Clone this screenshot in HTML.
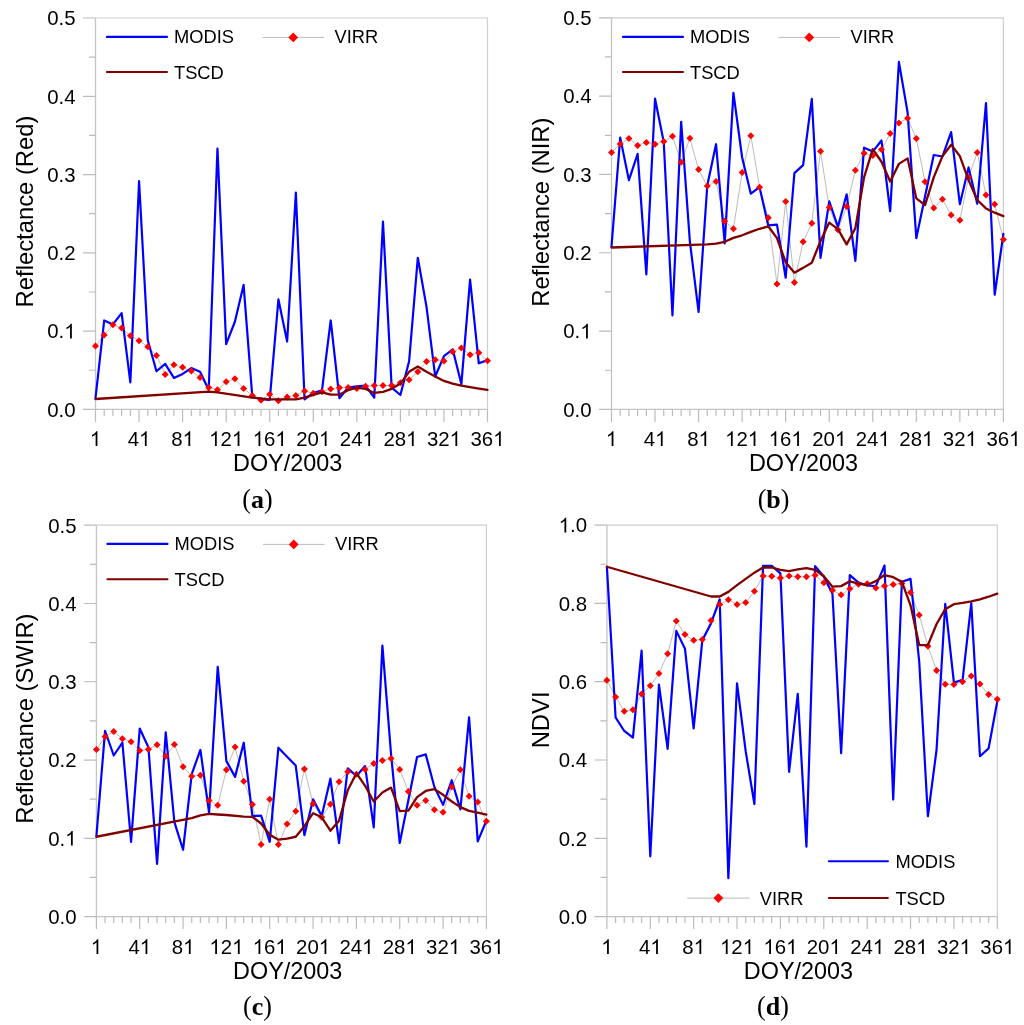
<!DOCTYPE html><html><head><meta charset="utf-8"><style>html,body{margin:0;padding:0;background:#fff;}svg{display:block;will-change:transform;}</style></head><body>
<svg width="1024" height="1025" viewBox="0 0 1024 1025" font-family='"Liberation Sans", sans-serif' fill="#000">
<rect width="1024" height="1025" fill="#fff"/>
<path d="M95.50,18.00H487.50V409.40" fill="none" stroke="#cfcfcf" stroke-width="1.2"/>
<path d="M95.50,18.00V409.40H487.50" fill="none" stroke="#c4c4c4" stroke-width="1.3"/>
<path d="M83.00,409.40H95.50 M89.00,370.26H95.50 M83.00,331.12H95.50 M89.00,291.98H95.50 M83.00,252.84H95.50 M89.00,213.70H95.50 M83.00,174.56H95.50 M89.00,135.42H95.50 M83.00,96.28H95.50 M89.00,57.14H95.50 M83.00,18.00H95.50 M95.50,409.40V421.90 M104.21,409.40V415.90 M112.92,409.40V415.90 M121.63,409.40V415.90 M130.34,409.40V415.90 M139.06,409.40V421.90 M147.77,409.40V415.90 M156.48,409.40V415.90 M165.19,409.40V415.90 M173.90,409.40V415.90 M182.61,409.40V421.90 M191.32,409.40V415.90 M200.03,409.40V415.90 M208.74,409.40V415.90 M217.46,409.40V415.90 M226.17,409.40V421.90 M234.88,409.40V415.90 M243.59,409.40V415.90 M252.30,409.40V415.90 M261.01,409.40V415.90 M269.72,409.40V421.90 M278.43,409.40V415.90 M287.14,409.40V415.90 M295.86,409.40V415.90 M304.57,409.40V415.90 M313.28,409.40V421.90 M321.99,409.40V415.90 M330.70,409.40V415.90 M339.41,409.40V415.90 M348.12,409.40V415.90 M356.83,409.40V421.90 M365.54,409.40V415.90 M374.26,409.40V415.90 M382.97,409.40V415.90 M391.68,409.40V415.90 M400.39,409.40V421.90 M409.10,409.40V415.90 M417.81,409.40V415.90 M426.52,409.40V415.90 M435.23,409.40V415.90 M443.94,409.40V421.90 M452.66,409.40V415.90 M461.37,409.40V415.90 M470.08,409.40V415.90 M478.79,409.40V415.90 M487.50,409.40V421.90" stroke="#bcbcbc" stroke-width="1.2" fill="none"/>
<g transform="translate(47.24,416.70) scale(1,1.0)" font-size="20.4"><text x="0.00" y="0">0.0</text></g>
<g transform="translate(47.24,338.42) scale(1,1.0)" font-size="20.4"><text x="0.00" y="0">0.</text><path transform="translate(17.01,0) scale(0.00996,-0.00996)" d="M763,0H583V1147Q518,1085 412,1023T222,930V1104Q373,1175 486,1276T646,1472H763Z"/></g>
<g transform="translate(47.24,260.14) scale(1,1.0)" font-size="20.4"><text x="0.00" y="0">0.2</text></g>
<g transform="translate(47.24,181.86) scale(1,1.0)" font-size="20.4"><text x="0.00" y="0">0.3</text></g>
<g transform="translate(47.24,103.58) scale(1,1.0)" font-size="20.4"><text x="0.00" y="0">0.4</text></g>
<g transform="translate(47.24,25.30) scale(1,1.0)" font-size="20.4"><text x="0.00" y="0">0.5</text></g>
<g transform="translate(89.83,446.00) scale(1,1.0)" font-size="20.4"><path transform="translate(0.00,0) scale(0.00996,-0.00996)" d="M763,0H583V1147Q518,1085 412,1023T222,930V1104Q373,1175 486,1276T646,1472H763Z"/></g>
<g transform="translate(127.71,446.00) scale(1,1.0)" font-size="20.4"><text x="0.00" y="0">4</text><path transform="translate(11.34,0) scale(0.00996,-0.00996)" d="M763,0H583V1147Q518,1085 412,1023T222,930V1104Q373,1175 486,1276T646,1472H763Z"/></g>
<g transform="translate(171.27,446.00) scale(1,1.0)" font-size="20.4"><text x="0.00" y="0">8</text><path transform="translate(11.34,0) scale(0.00996,-0.00996)" d="M763,0H583V1147Q518,1085 412,1023T222,930V1104Q373,1175 486,1276T646,1472H763Z"/></g>
<g transform="translate(209.15,446.00) scale(1,1.0)" font-size="20.4"><path transform="translate(0.00,0) scale(0.00996,-0.00996)" d="M763,0H583V1147Q518,1085 412,1023T222,930V1104Q373,1175 486,1276T646,1472H763Z"/><text x="11.34" y="0">2</text><path transform="translate(22.68,0) scale(0.00996,-0.00996)" d="M763,0H583V1147Q518,1085 412,1023T222,930V1104Q373,1175 486,1276T646,1472H763Z"/></g>
<g transform="translate(252.71,446.00) scale(1,1.0)" font-size="20.4"><path transform="translate(0.00,0) scale(0.00996,-0.00996)" d="M763,0H583V1147Q518,1085 412,1023T222,930V1104Q373,1175 486,1276T646,1472H763Z"/><text x="11.34" y="0">6</text><path transform="translate(22.68,0) scale(0.00996,-0.00996)" d="M763,0H583V1147Q518,1085 412,1023T222,930V1104Q373,1175 486,1276T646,1472H763Z"/></g>
<g transform="translate(296.26,446.00) scale(1,1.0)" font-size="20.4"><text x="0.00" y="0">20</text><path transform="translate(22.68,0) scale(0.00996,-0.00996)" d="M763,0H583V1147Q518,1085 412,1023T222,930V1104Q373,1175 486,1276T646,1472H763Z"/></g>
<g transform="translate(339.82,446.00) scale(1,1.0)" font-size="20.4"><text x="0.00" y="0">24</text><path transform="translate(22.68,0) scale(0.00996,-0.00996)" d="M763,0H583V1147Q518,1085 412,1023T222,930V1104Q373,1175 486,1276T646,1472H763Z"/></g>
<g transform="translate(383.38,446.00) scale(1,1.0)" font-size="20.4"><text x="0.00" y="0">28</text><path transform="translate(22.68,0) scale(0.00996,-0.00996)" d="M763,0H583V1147Q518,1085 412,1023T222,930V1104Q373,1175 486,1276T646,1472H763Z"/></g>
<g transform="translate(426.93,446.00) scale(1,1.0)" font-size="20.4"><text x="0.00" y="0">32</text><path transform="translate(22.68,0) scale(0.00996,-0.00996)" d="M763,0H583V1147Q518,1085 412,1023T222,930V1104Q373,1175 486,1276T646,1472H763Z"/></g>
<g transform="translate(470.49,446.00) scale(1,1.0)" font-size="20.4"><text x="0.00" y="0">36</text><path transform="translate(22.68,0) scale(0.00996,-0.00996)" d="M763,0H583V1147Q518,1085 412,1023T222,930V1104Q373,1175 486,1276T646,1472H763Z"/></g>
<text transform="translate(287.60,470.80) scale(1,1.0)" text-anchor="middle" font-size="23.4">DOY/2003</text>
<text transform="translate(32.60,211.50) rotate(-90) scale(1,1.0)" text-anchor="middle" font-size="23.8">Reflectance (Red)</text>
<g font-family="Liberation Serif, serif" font-size="26"><text transform="translate(246.67,507.50) scale(1,1.06)" text-anchor="middle">(</text><text x="257.50" y="507.50" text-anchor="middle" font-weight="bold">a</text><text transform="translate(268.33,507.50) scale(1,1.06)" text-anchor="middle">)</text></g>
<svg x="89.50" y="12.00" width="404.00" height="403.40" viewBox="89.50 12.00 404.00 403.40" overflow="visible">
<polyline points="95.50,345.99 104.21,335.03 112.92,324.86 121.63,327.99 130.34,335.82 139.06,340.67 147.77,346.78 156.48,355.39 165.19,374.49 173.90,364.78 182.61,367.29 191.32,371.04 200.03,377.62 208.74,387.48 217.46,389.67 226.17,381.77 234.88,378.87 243.59,388.42 252.30,395.47 261.01,400.24 269.72,394.21 278.43,400.79 287.14,396.88 295.86,395.47 304.57,391.00 313.28,393.35 321.99,391.63 330.70,389.05 339.41,387.64 348.12,387.48 356.83,388.42 365.54,386.31 374.26,385.52 382.97,385.52 391.68,385.52 400.39,382.86 409.10,379.65 417.81,371.83 426.52,361.41 435.23,359.77 443.94,361.10 452.66,351.63 461.37,348.03 470.08,354.68 478.79,352.73 487.50,360.87" fill="none" stroke="#b4b4b4" stroke-width="0.9"/>
<polyline points="95.50,398.21 104.21,320.47 112.92,324.39 121.63,313.12 130.34,382.39 139.06,180.98 147.77,340.20 156.48,371.28 165.19,363.92 173.90,377.93 182.61,373.94 191.32,368.07 200.03,371.83 208.74,389.83 217.46,148.65 226.17,344.19 234.88,321.73 243.59,284.93 252.30,396.80 261.01,399.22 269.72,400.01 278.43,299.42 287.14,341.53 295.86,192.56 304.57,399.46 313.28,392.96 321.99,390.30 330.70,320.47 339.41,398.21 348.12,387.48 356.83,386.31 365.54,385.52 374.26,397.66 382.97,221.68 391.68,387.64 400.39,395.00 409.10,361.34 417.81,257.77 426.52,306.85 435.23,376.52 443.94,356.17 452.66,349.28 461.37,384.04 470.08,279.69 478.79,363.29 487.50,360.16" fill="none" stroke="#0000ff" stroke-width="2.2" stroke-linejoin="round" stroke-linecap="round"/>
<path d="M95.50,342.49l3.5,3.5l-3.5,3.5l-3.5,-3.5zM104.21,331.53l3.5,3.5l-3.5,3.5l-3.5,-3.5zM112.92,321.36l3.5,3.5l-3.5,3.5l-3.5,-3.5zM121.63,324.49l3.5,3.5l-3.5,3.5l-3.5,-3.5zM130.34,332.32l3.5,3.5l-3.5,3.5l-3.5,-3.5zM139.06,337.17l3.5,3.5l-3.5,3.5l-3.5,-3.5zM147.77,343.28l3.5,3.5l-3.5,3.5l-3.5,-3.5zM156.48,351.89l3.5,3.5l-3.5,3.5l-3.5,-3.5zM165.19,370.99l3.5,3.5l-3.5,3.5l-3.5,-3.5zM173.90,361.28l3.5,3.5l-3.5,3.5l-3.5,-3.5zM182.61,363.79l3.5,3.5l-3.5,3.5l-3.5,-3.5zM191.32,367.54l3.5,3.5l-3.5,3.5l-3.5,-3.5zM200.03,374.12l3.5,3.5l-3.5,3.5l-3.5,-3.5zM208.74,383.98l3.5,3.5l-3.5,3.5l-3.5,-3.5zM217.46,386.17l3.5,3.5l-3.5,3.5l-3.5,-3.5zM226.17,378.27l3.5,3.5l-3.5,3.5l-3.5,-3.5zM234.88,375.37l3.5,3.5l-3.5,3.5l-3.5,-3.5zM243.59,384.92l3.5,3.5l-3.5,3.5l-3.5,-3.5zM252.30,391.97l3.5,3.5l-3.5,3.5l-3.5,-3.5zM261.01,396.74l3.5,3.5l-3.5,3.5l-3.5,-3.5zM269.72,390.71l3.5,3.5l-3.5,3.5l-3.5,-3.5zM278.43,397.29l3.5,3.5l-3.5,3.5l-3.5,-3.5zM287.14,393.38l3.5,3.5l-3.5,3.5l-3.5,-3.5zM295.86,391.97l3.5,3.5l-3.5,3.5l-3.5,-3.5zM304.57,387.50l3.5,3.5l-3.5,3.5l-3.5,-3.5zM313.28,389.85l3.5,3.5l-3.5,3.5l-3.5,-3.5zM321.99,388.13l3.5,3.5l-3.5,3.5l-3.5,-3.5zM330.70,385.55l3.5,3.5l-3.5,3.5l-3.5,-3.5zM339.41,384.14l3.5,3.5l-3.5,3.5l-3.5,-3.5zM348.12,383.98l3.5,3.5l-3.5,3.5l-3.5,-3.5zM356.83,384.92l3.5,3.5l-3.5,3.5l-3.5,-3.5zM365.54,382.81l3.5,3.5l-3.5,3.5l-3.5,-3.5zM374.26,382.02l3.5,3.5l-3.5,3.5l-3.5,-3.5zM382.97,382.02l3.5,3.5l-3.5,3.5l-3.5,-3.5zM391.68,382.02l3.5,3.5l-3.5,3.5l-3.5,-3.5zM400.39,379.36l3.5,3.5l-3.5,3.5l-3.5,-3.5zM409.10,376.15l3.5,3.5l-3.5,3.5l-3.5,-3.5zM417.81,368.33l3.5,3.5l-3.5,3.5l-3.5,-3.5zM426.52,357.91l3.5,3.5l-3.5,3.5l-3.5,-3.5zM435.23,356.27l3.5,3.5l-3.5,3.5l-3.5,-3.5zM443.94,357.60l3.5,3.5l-3.5,3.5l-3.5,-3.5zM452.66,348.13l3.5,3.5l-3.5,3.5l-3.5,-3.5zM461.37,344.53l3.5,3.5l-3.5,3.5l-3.5,-3.5zM470.08,351.18l3.5,3.5l-3.5,3.5l-3.5,-3.5zM478.79,349.23l3.5,3.5l-3.5,3.5l-3.5,-3.5zM487.50,357.37l3.5,3.5l-3.5,3.5l-3.5,-3.5z" fill="#ff0000"/>
<polyline points="95.50,398.99 208.74,391.63 217.46,392.41 252.30,397.66 269.72,399.46 295.86,399.46 304.57,397.66 313.28,394.84 321.99,392.41 330.70,394.53 339.41,394.53 348.12,390.22 356.83,387.64 365.54,388.89 374.26,392.96 382.97,391.87 391.68,388.89 400.39,383.57 409.10,371.83 417.81,366.58 426.52,371.83 435.23,376.52 443.94,380.91 452.66,383.57 461.37,385.60 470.08,387.17 478.79,388.58 487.50,389.83" fill="none" stroke="#800000" stroke-width="2.3" stroke-linejoin="round" stroke-linecap="round"/>
</svg>
<path d="M106.9,36.9H167.0" stroke="#0000ff" stroke-width="2.1" stroke-linecap="round"/>
<path d="M262.5,37.4H324" stroke="#b4b4b4" stroke-width="0.9"/>
<path d="M293.25,32.50l4.9,4.9l-4.9,4.9l-4.9,-4.9z" fill="#ff0000"/>
<path d="M106.9,72.0H167.0" stroke="#800000" stroke-width="2.0" stroke-linecap="round"/>
<text transform="translate(174,43.4) scale(1,1.0)" font-size="18.3">MODIS</text>
<text transform="translate(334.5,43.4) scale(1,1.0)" font-size="18.3">VIRR</text>
<text transform="translate(174,78.5) scale(1,1.0)" font-size="18.3">TSCD</text>
<path d="M611.50,17.80H1003.40V409.40" fill="none" stroke="#cfcfcf" stroke-width="1.2"/>
<path d="M611.50,17.80V409.40H1003.40" fill="none" stroke="#c4c4c4" stroke-width="1.3"/>
<path d="M599.00,409.40H611.50 M605.00,370.24H611.50 M599.00,331.08H611.50 M605.00,291.92H611.50 M599.00,252.76H611.50 M605.00,213.60H611.50 M599.00,174.44H611.50 M605.00,135.28H611.50 M599.00,96.12H611.50 M605.00,56.96H611.50 M599.00,17.80H611.50 M611.50,409.40V421.90 M620.21,409.40V415.90 M628.92,409.40V415.90 M637.63,409.40V415.90 M646.34,409.40V415.90 M655.04,409.40V421.90 M663.75,409.40V415.90 M672.46,409.40V415.90 M681.17,409.40V415.90 M689.88,409.40V415.90 M698.59,409.40V421.90 M707.30,409.40V415.90 M716.01,409.40V415.90 M724.72,409.40V415.90 M733.42,409.40V415.90 M742.13,409.40V421.90 M750.84,409.40V415.90 M759.55,409.40V415.90 M768.26,409.40V415.90 M776.97,409.40V415.90 M785.68,409.40V421.90 M794.39,409.40V415.90 M803.10,409.40V415.90 M811.80,409.40V415.90 M820.51,409.40V415.90 M829.22,409.40V421.90 M837.93,409.40V415.90 M846.64,409.40V415.90 M855.35,409.40V415.90 M864.06,409.40V415.90 M872.77,409.40V421.90 M881.48,409.40V415.90 M890.18,409.40V415.90 M898.89,409.40V415.90 M907.60,409.40V415.90 M916.31,409.40V421.90 M925.02,409.40V415.90 M933.73,409.40V415.90 M942.44,409.40V415.90 M951.15,409.40V415.90 M959.86,409.40V421.90 M968.56,409.40V415.90 M977.27,409.40V415.90 M985.98,409.40V415.90 M994.69,409.40V415.90 M1003.40,409.40V421.90" stroke="#bcbcbc" stroke-width="1.2" fill="none"/>
<g transform="translate(563.24,416.70) scale(1,1.0)" font-size="20.4"><text x="0.00" y="0">0.0</text></g>
<g transform="translate(563.24,338.38) scale(1,1.0)" font-size="20.4"><text x="0.00" y="0">0.</text><path transform="translate(17.01,0) scale(0.00996,-0.00996)" d="M763,0H583V1147Q518,1085 412,1023T222,930V1104Q373,1175 486,1276T646,1472H763Z"/></g>
<g transform="translate(563.24,260.06) scale(1,1.0)" font-size="20.4"><text x="0.00" y="0">0.2</text></g>
<g transform="translate(563.24,181.74) scale(1,1.0)" font-size="20.4"><text x="0.00" y="0">0.3</text></g>
<g transform="translate(563.24,103.42) scale(1,1.0)" font-size="20.4"><text x="0.00" y="0">0.4</text></g>
<g transform="translate(563.24,25.10) scale(1,1.0)" font-size="20.4"><text x="0.00" y="0">0.5</text></g>
<g transform="translate(605.83,446.00) scale(1,1.0)" font-size="20.4"><path transform="translate(0.00,0) scale(0.00996,-0.00996)" d="M763,0H583V1147Q518,1085 412,1023T222,930V1104Q373,1175 486,1276T646,1472H763Z"/></g>
<g transform="translate(643.70,446.00) scale(1,1.0)" font-size="20.4"><text x="0.00" y="0">4</text><path transform="translate(11.34,0) scale(0.00996,-0.00996)" d="M763,0H583V1147Q518,1085 412,1023T222,930V1104Q373,1175 486,1276T646,1472H763Z"/></g>
<g transform="translate(687.25,446.00) scale(1,1.0)" font-size="20.4"><text x="0.00" y="0">8</text><path transform="translate(11.34,0) scale(0.00996,-0.00996)" d="M763,0H583V1147Q518,1085 412,1023T222,930V1104Q373,1175 486,1276T646,1472H763Z"/></g>
<g transform="translate(725.12,446.00) scale(1,1.0)" font-size="20.4"><path transform="translate(0.00,0) scale(0.00996,-0.00996)" d="M763,0H583V1147Q518,1085 412,1023T222,930V1104Q373,1175 486,1276T646,1472H763Z"/><text x="11.34" y="0">2</text><path transform="translate(22.68,0) scale(0.00996,-0.00996)" d="M763,0H583V1147Q518,1085 412,1023T222,930V1104Q373,1175 486,1276T646,1472H763Z"/></g>
<g transform="translate(768.66,446.00) scale(1,1.0)" font-size="20.4"><path transform="translate(0.00,0) scale(0.00996,-0.00996)" d="M763,0H583V1147Q518,1085 412,1023T222,930V1104Q373,1175 486,1276T646,1472H763Z"/><text x="11.34" y="0">6</text><path transform="translate(22.68,0) scale(0.00996,-0.00996)" d="M763,0H583V1147Q518,1085 412,1023T222,930V1104Q373,1175 486,1276T646,1472H763Z"/></g>
<g transform="translate(812.21,446.00) scale(1,1.0)" font-size="20.4"><text x="0.00" y="0">20</text><path transform="translate(22.68,0) scale(0.00996,-0.00996)" d="M763,0H583V1147Q518,1085 412,1023T222,930V1104Q373,1175 486,1276T646,1472H763Z"/></g>
<g transform="translate(855.75,446.00) scale(1,1.0)" font-size="20.4"><text x="0.00" y="0">24</text><path transform="translate(22.68,0) scale(0.00996,-0.00996)" d="M763,0H583V1147Q518,1085 412,1023T222,930V1104Q373,1175 486,1276T646,1472H763Z"/></g>
<g transform="translate(899.30,446.00) scale(1,1.0)" font-size="20.4"><text x="0.00" y="0">28</text><path transform="translate(22.68,0) scale(0.00996,-0.00996)" d="M763,0H583V1147Q518,1085 412,1023T222,930V1104Q373,1175 486,1276T646,1472H763Z"/></g>
<g transform="translate(942.84,446.00) scale(1,1.0)" font-size="20.4"><text x="0.00" y="0">32</text><path transform="translate(22.68,0) scale(0.00996,-0.00996)" d="M763,0H583V1147Q518,1085 412,1023T222,930V1104Q373,1175 486,1276T646,1472H763Z"/></g>
<g transform="translate(986.39,446.00) scale(1,1.0)" font-size="20.4"><text x="0.00" y="0">36</text><path transform="translate(22.68,0) scale(0.00996,-0.00996)" d="M763,0H583V1147Q518,1085 412,1023T222,930V1104Q373,1175 486,1276T646,1472H763Z"/></g>
<text transform="translate(803.50,470.80) scale(1,1.0)" text-anchor="middle" font-size="23.4">DOY/2003</text>
<text transform="translate(549.00,212.10) rotate(-90) scale(1,1.0)" text-anchor="middle" font-size="23.8">Reflectance (NIR)</text>
<g font-family="Liberation Serif, serif" font-size="26"><text transform="translate(762.04,507.50) scale(1,1.06)" text-anchor="middle">(</text><text x="773.60" y="507.50" text-anchor="middle" font-weight="bold">b</text><text transform="translate(785.16,507.50) scale(1,1.06)" text-anchor="middle">)</text></g>
<svg x="605.50" y="11.80" width="403.90" height="403.60" viewBox="605.50 11.80 403.90 403.60" overflow="visible">
<polyline points="611.50,152.43 620.21,143.90 628.92,138.57 637.63,145.38 646.34,142.49 655.04,144.21 663.75,141.39 672.46,136.30 681.17,162.30 689.88,138.26 698.59,169.43 707.30,186.11 716.01,181.57 724.72,221.20 733.42,228.79 742.13,172.48 750.84,135.75 759.55,187.21 768.26,217.75 776.97,284.01 785.68,201.38 794.39,282.60 803.10,241.87 811.80,223.16 820.51,151.26 829.22,207.57 837.93,229.66 846.64,206.47 855.35,170.29 864.06,153.29 872.77,155.56 881.48,149.61 890.18,133.48 898.89,123.06 907.60,118.21 916.31,138.49 925.02,181.65 933.73,207.96 942.44,199.19 951.15,214.93 959.86,220.34 968.56,177.34 977.27,152.43 985.98,195.12 994.69,204.20 1003.40,239.60" fill="none" stroke="#b4b4b4" stroke-width="0.9"/>
<polyline points="611.50,246.65 620.21,137.63 628.92,180.16 637.63,153.84 646.34,274.38 655.04,98.70 663.75,142.02 672.46,315.42 681.17,121.81 689.88,241.56 698.59,311.89 707.30,185.48 716.01,144.21 724.72,243.28 733.42,92.91 742.13,157.52 750.84,193.71 759.55,187.21 768.26,225.43 776.97,224.56 785.68,277.74 794.39,173.11 803.10,165.12 811.80,98.78 820.51,257.93 829.22,201.38 837.93,226.84 846.64,194.33 855.35,260.83 864.06,147.65 872.77,151.57 881.48,140.53 890.18,211.25 898.89,61.97 907.60,112.41 916.31,238.19 925.02,196.60 933.73,155.02 942.44,156.50 951.15,132.07 959.86,204.20 968.56,167.39 977.27,203.65 985.98,103.01 994.69,294.74 1003.40,233.88" fill="none" stroke="#0000ff" stroke-width="2.2" stroke-linejoin="round" stroke-linecap="round"/>
<path d="M611.50,148.93l3.5,3.5l-3.5,3.5l-3.5,-3.5zM620.21,140.40l3.5,3.5l-3.5,3.5l-3.5,-3.5zM628.92,135.07l3.5,3.5l-3.5,3.5l-3.5,-3.5zM637.63,141.88l3.5,3.5l-3.5,3.5l-3.5,-3.5zM646.34,138.99l3.5,3.5l-3.5,3.5l-3.5,-3.5zM655.04,140.71l3.5,3.5l-3.5,3.5l-3.5,-3.5zM663.75,137.89l3.5,3.5l-3.5,3.5l-3.5,-3.5zM672.46,132.80l3.5,3.5l-3.5,3.5l-3.5,-3.5zM681.17,158.80l3.5,3.5l-3.5,3.5l-3.5,-3.5zM689.88,134.76l3.5,3.5l-3.5,3.5l-3.5,-3.5zM698.59,165.93l3.5,3.5l-3.5,3.5l-3.5,-3.5zM707.30,182.61l3.5,3.5l-3.5,3.5l-3.5,-3.5zM716.01,178.07l3.5,3.5l-3.5,3.5l-3.5,-3.5zM724.72,217.70l3.5,3.5l-3.5,3.5l-3.5,-3.5zM733.42,225.29l3.5,3.5l-3.5,3.5l-3.5,-3.5zM742.13,168.98l3.5,3.5l-3.5,3.5l-3.5,-3.5zM750.84,132.25l3.5,3.5l-3.5,3.5l-3.5,-3.5zM759.55,183.71l3.5,3.5l-3.5,3.5l-3.5,-3.5zM768.26,214.25l3.5,3.5l-3.5,3.5l-3.5,-3.5zM776.97,280.51l3.5,3.5l-3.5,3.5l-3.5,-3.5zM785.68,197.88l3.5,3.5l-3.5,3.5l-3.5,-3.5zM794.39,279.10l3.5,3.5l-3.5,3.5l-3.5,-3.5zM803.10,238.37l3.5,3.5l-3.5,3.5l-3.5,-3.5zM811.80,219.66l3.5,3.5l-3.5,3.5l-3.5,-3.5zM820.51,147.76l3.5,3.5l-3.5,3.5l-3.5,-3.5zM829.22,204.07l3.5,3.5l-3.5,3.5l-3.5,-3.5zM837.93,226.16l3.5,3.5l-3.5,3.5l-3.5,-3.5zM846.64,202.97l3.5,3.5l-3.5,3.5l-3.5,-3.5zM855.35,166.79l3.5,3.5l-3.5,3.5l-3.5,-3.5zM864.06,149.79l3.5,3.5l-3.5,3.5l-3.5,-3.5zM872.77,152.06l3.5,3.5l-3.5,3.5l-3.5,-3.5zM881.48,146.11l3.5,3.5l-3.5,3.5l-3.5,-3.5zM890.18,129.98l3.5,3.5l-3.5,3.5l-3.5,-3.5zM898.89,119.56l3.5,3.5l-3.5,3.5l-3.5,-3.5zM907.60,114.71l3.5,3.5l-3.5,3.5l-3.5,-3.5zM916.31,134.99l3.5,3.5l-3.5,3.5l-3.5,-3.5zM925.02,178.15l3.5,3.5l-3.5,3.5l-3.5,-3.5zM933.73,204.46l3.5,3.5l-3.5,3.5l-3.5,-3.5zM942.44,195.69l3.5,3.5l-3.5,3.5l-3.5,-3.5zM951.15,211.43l3.5,3.5l-3.5,3.5l-3.5,-3.5zM959.86,216.84l3.5,3.5l-3.5,3.5l-3.5,-3.5zM968.56,173.84l3.5,3.5l-3.5,3.5l-3.5,-3.5zM977.27,148.93l3.5,3.5l-3.5,3.5l-3.5,-3.5zM985.98,191.62l3.5,3.5l-3.5,3.5l-3.5,-3.5zM994.69,200.70l3.5,3.5l-3.5,3.5l-3.5,-3.5zM1003.40,236.10l3.5,3.5l-3.5,3.5l-3.5,-3.5z" fill="#ff0000"/>
<polyline points="611.50,247.51 707.30,244.30 716.01,243.60 724.72,241.80 733.42,237.88 742.13,235.29 750.84,231.93 759.55,228.79 768.26,226.29 776.97,238.19 785.68,262.24 794.39,272.65 803.10,267.88 811.80,262.78 820.51,241.01 829.22,222.61 837.93,229.11 846.64,244.38 855.35,228.25 864.06,177.34 872.77,149.06 881.48,161.75 890.18,181.57 898.89,163.87 907.60,158.38 916.31,198.41 925.02,205.14 933.73,177.42 942.44,156.19 951.15,144.76 959.86,156.11 968.56,180.16 977.27,199.97 985.98,208.43 994.69,212.66 1003.40,216.11" fill="none" stroke="#800000" stroke-width="2.3" stroke-linejoin="round" stroke-linecap="round"/>
</svg>
<path d="M622.9,36.9H683.0" stroke="#0000ff" stroke-width="2.1" stroke-linecap="round"/>
<path d="M778.5,37.4H840.0" stroke="#b4b4b4" stroke-width="0.9"/>
<path d="M809.25,32.50l4.9,4.9l-4.9,4.9l-4.9,-4.9z" fill="#ff0000"/>
<path d="M622.9,72.0H683.0" stroke="#800000" stroke-width="2.0" stroke-linecap="round"/>
<text transform="translate(690.0,43.4) scale(1,1.0)" font-size="18.3">MODIS</text>
<text transform="translate(850.5,43.4) scale(1,1.0)" font-size="18.3">VIRR</text>
<text transform="translate(690.0,78.5) scale(1,1.0)" font-size="18.3">TSCD</text>
<path d="M96.40,525.20H486.40V916.60" fill="none" stroke="#cfcfcf" stroke-width="1.2"/>
<path d="M96.40,525.20V916.60H486.40" fill="none" stroke="#c4c4c4" stroke-width="1.3"/>
<path d="M83.90,916.60H96.40 M89.90,877.46H96.40 M83.90,838.32H96.40 M89.90,799.18H96.40 M83.90,760.04H96.40 M89.90,720.90H96.40 M83.90,681.76H96.40 M89.90,642.62H96.40 M83.90,603.48H96.40 M89.90,564.34H96.40 M83.90,525.20H96.40 M96.40,916.60V929.10 M105.07,916.60V923.10 M113.73,916.60V923.10 M122.40,916.60V923.10 M131.07,916.60V923.10 M139.73,916.60V929.10 M148.40,916.60V923.10 M157.07,916.60V923.10 M165.73,916.60V923.10 M174.40,916.60V923.10 M183.07,916.60V929.10 M191.73,916.60V923.10 M200.40,916.60V923.10 M209.07,916.60V923.10 M217.73,916.60V923.10 M226.40,916.60V929.10 M235.07,916.60V923.10 M243.73,916.60V923.10 M252.40,916.60V923.10 M261.07,916.60V923.10 M269.73,916.60V929.10 M278.40,916.60V923.10 M287.07,916.60V923.10 M295.73,916.60V923.10 M304.40,916.60V923.10 M313.07,916.60V929.10 M321.73,916.60V923.10 M330.40,916.60V923.10 M339.07,916.60V923.10 M347.73,916.60V923.10 M356.40,916.60V929.10 M365.07,916.60V923.10 M373.73,916.60V923.10 M382.40,916.60V923.10 M391.07,916.60V923.10 M399.73,916.60V929.10 M408.40,916.60V923.10 M417.07,916.60V923.10 M425.73,916.60V923.10 M434.40,916.60V923.10 M443.07,916.60V929.10 M451.73,916.60V923.10 M460.40,916.60V923.10 M469.07,916.60V923.10 M477.73,916.60V923.10 M486.40,916.60V929.10" stroke="#bcbcbc" stroke-width="1.2" fill="none"/>
<g transform="translate(48.14,923.90) scale(1,1.0)" font-size="20.4"><text x="0.00" y="0">0.0</text></g>
<g transform="translate(48.14,845.62) scale(1,1.0)" font-size="20.4"><text x="0.00" y="0">0.</text><path transform="translate(17.01,0) scale(0.00996,-0.00996)" d="M763,0H583V1147Q518,1085 412,1023T222,930V1104Q373,1175 486,1276T646,1472H763Z"/></g>
<g transform="translate(48.14,767.34) scale(1,1.0)" font-size="20.4"><text x="0.00" y="0">0.2</text></g>
<g transform="translate(48.14,689.06) scale(1,1.0)" font-size="20.4"><text x="0.00" y="0">0.3</text></g>
<g transform="translate(48.14,610.78) scale(1,1.0)" font-size="20.4"><text x="0.00" y="0">0.4</text></g>
<g transform="translate(48.14,532.50) scale(1,1.0)" font-size="20.4"><text x="0.00" y="0">0.5</text></g>
<g transform="translate(90.73,953.90) scale(1,1.0)" font-size="20.4"><path transform="translate(0.00,0) scale(0.00996,-0.00996)" d="M763,0H583V1147Q518,1085 412,1023T222,930V1104Q373,1175 486,1276T646,1472H763Z"/></g>
<g transform="translate(128.39,953.90) scale(1,1.0)" font-size="20.4"><text x="0.00" y="0">4</text><path transform="translate(11.34,0) scale(0.00996,-0.00996)" d="M763,0H583V1147Q518,1085 412,1023T222,930V1104Q373,1175 486,1276T646,1472H763Z"/></g>
<g transform="translate(171.72,953.90) scale(1,1.0)" font-size="20.4"><text x="0.00" y="0">8</text><path transform="translate(11.34,0) scale(0.00996,-0.00996)" d="M763,0H583V1147Q518,1085 412,1023T222,930V1104Q373,1175 486,1276T646,1472H763Z"/></g>
<g transform="translate(209.39,953.90) scale(1,1.0)" font-size="20.4"><path transform="translate(0.00,0) scale(0.00996,-0.00996)" d="M763,0H583V1147Q518,1085 412,1023T222,930V1104Q373,1175 486,1276T646,1472H763Z"/><text x="11.34" y="0">2</text><path transform="translate(22.68,0) scale(0.00996,-0.00996)" d="M763,0H583V1147Q518,1085 412,1023T222,930V1104Q373,1175 486,1276T646,1472H763Z"/></g>
<g transform="translate(252.72,953.90) scale(1,1.0)" font-size="20.4"><path transform="translate(0.00,0) scale(0.00996,-0.00996)" d="M763,0H583V1147Q518,1085 412,1023T222,930V1104Q373,1175 486,1276T646,1472H763Z"/><text x="11.34" y="0">6</text><path transform="translate(22.68,0) scale(0.00996,-0.00996)" d="M763,0H583V1147Q518,1085 412,1023T222,930V1104Q373,1175 486,1276T646,1472H763Z"/></g>
<g transform="translate(296.05,953.90) scale(1,1.0)" font-size="20.4"><text x="0.00" y="0">20</text><path transform="translate(22.68,0) scale(0.00996,-0.00996)" d="M763,0H583V1147Q518,1085 412,1023T222,930V1104Q373,1175 486,1276T646,1472H763Z"/></g>
<g transform="translate(339.39,953.90) scale(1,1.0)" font-size="20.4"><text x="0.00" y="0">24</text><path transform="translate(22.68,0) scale(0.00996,-0.00996)" d="M763,0H583V1147Q518,1085 412,1023T222,930V1104Q373,1175 486,1276T646,1472H763Z"/></g>
<g transform="translate(382.72,953.90) scale(1,1.0)" font-size="20.4"><text x="0.00" y="0">28</text><path transform="translate(22.68,0) scale(0.00996,-0.00996)" d="M763,0H583V1147Q518,1085 412,1023T222,930V1104Q373,1175 486,1276T646,1472H763Z"/></g>
<g transform="translate(426.05,953.90) scale(1,1.0)" font-size="20.4"><text x="0.00" y="0">32</text><path transform="translate(22.68,0) scale(0.00996,-0.00996)" d="M763,0H583V1147Q518,1085 412,1023T222,930V1104Q373,1175 486,1276T646,1472H763Z"/></g>
<g transform="translate(469.39,953.90) scale(1,1.0)" font-size="20.4"><text x="0.00" y="0">36</text><path transform="translate(22.68,0) scale(0.00996,-0.00996)" d="M763,0H583V1147Q518,1085 412,1023T222,930V1104Q373,1175 486,1276T646,1472H763Z"/></g>
<text transform="translate(287.70,978.90) scale(1,1.0)" text-anchor="middle" font-size="23.4">DOY/2003</text>
<text transform="translate(32.80,718.60) rotate(-90) scale(1,1.0)" text-anchor="middle" font-size="23.8">Reflectance (SWIR)</text>
<g font-family="Liberation Serif, serif" font-size="26"><text transform="translate(247.40,1014.70) scale(1,1.06)" text-anchor="middle">(</text><text x="257.50" y="1014.70" text-anchor="middle" font-weight="bold">c</text><text transform="translate(267.60,1014.70) scale(1,1.06)" text-anchor="middle">)</text></g>
<svg x="90.40" y="519.20" width="402.00" height="403.40" viewBox="90.40 519.20 402.00 403.40" overflow="visible">
<polyline points="96.40,749.47 105.07,736.87 113.73,731.55 122.40,738.67 131.07,741.64 139.73,750.57 148.40,749.24 157.07,744.78 165.73,756.20 174.40,744.54 183.07,766.77 191.73,776.17 200.40,775.30 209.07,800.43 217.73,805.36 226.40,769.67 235.07,746.97 243.73,781.33 252.40,804.42 261.07,844.58 269.73,799.26 278.40,844.58 287.07,823.99 295.73,811.16 304.40,768.96 313.07,803.80 321.73,817.26 330.40,804.19 339.07,781.80 347.73,771.70 356.40,774.13 365.07,769.43 373.73,763.41 382.40,760.43 391.07,758.47 399.73,769.43 408.40,791.43 417.07,805.36 425.73,800.43 434.40,809.83 443.07,812.33 451.73,786.97 460.40,769.67 469.07,796.36 477.73,802.00 486.40,821.25" fill="none" stroke="#b4b4b4" stroke-width="0.9"/>
<polyline points="96.40,836.28 105.07,730.84 113.73,755.50 122.40,742.74 131.07,841.92 139.73,728.57 148.40,747.20 157.07,863.92 165.73,732.41 174.40,822.19 183.07,849.75 191.73,774.13 200.40,749.94 209.07,812.72 217.73,666.89 226.40,761.14 235.07,776.87 243.73,742.74 252.40,816.09 261.07,815.70 269.73,841.92 278.40,747.67 287.07,756.67 295.73,765.60 304.40,835.19 313.07,799.26 321.73,816.09 330.40,778.67 339.07,843.02 347.73,768.34 356.40,775.93 365.07,766.07 373.73,827.36 382.40,645.59 391.07,754.40 399.73,843.02 408.40,799.96 417.07,757.07 425.73,754.40 434.40,786.97 443.07,804.89 451.73,780.24 460.40,809.36 469.07,717.38 477.73,841.45 486.40,820.63" fill="none" stroke="#0000ff" stroke-width="2.2" stroke-linejoin="round" stroke-linecap="round"/>
<path d="M96.40,745.97l3.5,3.5l-3.5,3.5l-3.5,-3.5zM105.07,733.37l3.5,3.5l-3.5,3.5l-3.5,-3.5zM113.73,728.05l3.5,3.5l-3.5,3.5l-3.5,-3.5zM122.40,735.17l3.5,3.5l-3.5,3.5l-3.5,-3.5zM131.07,738.14l3.5,3.5l-3.5,3.5l-3.5,-3.5zM139.73,747.07l3.5,3.5l-3.5,3.5l-3.5,-3.5zM148.40,745.74l3.5,3.5l-3.5,3.5l-3.5,-3.5zM157.07,741.28l3.5,3.5l-3.5,3.5l-3.5,-3.5zM165.73,752.70l3.5,3.5l-3.5,3.5l-3.5,-3.5zM174.40,741.04l3.5,3.5l-3.5,3.5l-3.5,-3.5zM183.07,763.27l3.5,3.5l-3.5,3.5l-3.5,-3.5zM191.73,772.67l3.5,3.5l-3.5,3.5l-3.5,-3.5zM200.40,771.80l3.5,3.5l-3.5,3.5l-3.5,-3.5zM209.07,796.93l3.5,3.5l-3.5,3.5l-3.5,-3.5zM217.73,801.86l3.5,3.5l-3.5,3.5l-3.5,-3.5zM226.40,766.17l3.5,3.5l-3.5,3.5l-3.5,-3.5zM235.07,743.47l3.5,3.5l-3.5,3.5l-3.5,-3.5zM243.73,777.83l3.5,3.5l-3.5,3.5l-3.5,-3.5zM252.40,800.92l3.5,3.5l-3.5,3.5l-3.5,-3.5zM261.07,841.08l3.5,3.5l-3.5,3.5l-3.5,-3.5zM269.73,795.76l3.5,3.5l-3.5,3.5l-3.5,-3.5zM278.40,841.08l3.5,3.5l-3.5,3.5l-3.5,-3.5zM287.07,820.49l3.5,3.5l-3.5,3.5l-3.5,-3.5zM295.73,807.66l3.5,3.5l-3.5,3.5l-3.5,-3.5zM304.40,765.46l3.5,3.5l-3.5,3.5l-3.5,-3.5zM313.07,800.30l3.5,3.5l-3.5,3.5l-3.5,-3.5zM321.73,813.76l3.5,3.5l-3.5,3.5l-3.5,-3.5zM330.40,800.69l3.5,3.5l-3.5,3.5l-3.5,-3.5zM339.07,778.30l3.5,3.5l-3.5,3.5l-3.5,-3.5zM347.73,768.20l3.5,3.5l-3.5,3.5l-3.5,-3.5zM356.40,770.63l3.5,3.5l-3.5,3.5l-3.5,-3.5zM365.07,765.93l3.5,3.5l-3.5,3.5l-3.5,-3.5zM373.73,759.91l3.5,3.5l-3.5,3.5l-3.5,-3.5zM382.40,756.93l3.5,3.5l-3.5,3.5l-3.5,-3.5zM391.07,754.97l3.5,3.5l-3.5,3.5l-3.5,-3.5zM399.73,765.93l3.5,3.5l-3.5,3.5l-3.5,-3.5zM408.40,787.93l3.5,3.5l-3.5,3.5l-3.5,-3.5zM417.07,801.86l3.5,3.5l-3.5,3.5l-3.5,-3.5zM425.73,796.93l3.5,3.5l-3.5,3.5l-3.5,-3.5zM434.40,806.33l3.5,3.5l-3.5,3.5l-3.5,-3.5zM443.07,808.83l3.5,3.5l-3.5,3.5l-3.5,-3.5zM451.73,783.47l3.5,3.5l-3.5,3.5l-3.5,-3.5zM460.40,766.17l3.5,3.5l-3.5,3.5l-3.5,-3.5zM469.07,792.86l3.5,3.5l-3.5,3.5l-3.5,-3.5zM477.73,798.50l3.5,3.5l-3.5,3.5l-3.5,-3.5zM486.40,817.75l3.5,3.5l-3.5,3.5l-3.5,-3.5z" fill="#ff0000"/>
<polyline points="96.40,836.75 191.73,818.12 200.40,815.31 209.07,813.90 217.73,814.52 226.40,814.99 243.73,816.56 252.40,816.79 261.07,823.53 269.73,834.72 278.40,839.65 287.07,838.55 295.73,836.75 304.40,826.19 313.07,813.19 321.73,817.26 330.40,830.73 339.07,820.63 347.73,790.33 356.40,773.19 365.07,785.79 373.73,801.53 382.40,792.53 391.07,787.59 399.73,811.16 408.40,810.53 417.07,797.07 425.73,790.96 434.40,789.16 443.07,794.80 451.73,801.53 460.40,807.16 469.07,810.92 477.73,812.72 486.40,814.52" fill="none" stroke="#800000" stroke-width="2.3" stroke-linejoin="round" stroke-linecap="round"/>
</svg>
<path d="M107.4,543.9H167.5" stroke="#0000ff" stroke-width="2.1" stroke-linecap="round"/>
<path d="M263,544.4H324.5" stroke="#b4b4b4" stroke-width="0.9"/>
<path d="M293.75,539.50l4.9,4.9l-4.9,4.9l-4.9,-4.9z" fill="#ff0000"/>
<path d="M107.4,579.2H167.5" stroke="#800000" stroke-width="2.0" stroke-linecap="round"/>
<text transform="translate(174.6,550.4) scale(1,1.0)" font-size="18.3">MODIS</text>
<text transform="translate(335,550.4) scale(1,1.0)" font-size="18.3">VIRR</text>
<text transform="translate(174.6,585.7) scale(1,1.0)" font-size="18.3">TSCD</text>
<path d="M606.90,525.10H997.30V916.60" fill="none" stroke="#cfcfcf" stroke-width="1.2"/>
<path d="M606.90,525.10V916.60H997.30" fill="none" stroke="#c4c4c4" stroke-width="1.3"/>
<path d="M594.40,916.60H606.90 M600.40,877.45H606.90 M594.40,838.30H606.90 M600.40,799.15H606.90 M594.40,760.00H606.90 M600.40,720.85H606.90 M594.40,681.70H606.90 M600.40,642.55H606.90 M594.40,603.40H606.90 M600.40,564.25H606.90 M594.40,525.10H606.90 M606.90,916.60V929.10 M615.58,916.60V923.10 M624.25,916.60V923.10 M632.93,916.60V923.10 M641.60,916.60V923.10 M650.28,916.60V929.10 M658.95,916.60V923.10 M667.63,916.60V923.10 M676.30,916.60V923.10 M684.98,916.60V923.10 M693.66,916.60V929.10 M702.33,916.60V923.10 M711.01,916.60V923.10 M719.68,916.60V923.10 M728.36,916.60V923.10 M737.03,916.60V929.10 M745.71,916.60V923.10 M754.38,916.60V923.10 M763.06,916.60V923.10 M771.74,916.60V923.10 M780.41,916.60V929.10 M789.09,916.60V923.10 M797.76,916.60V923.10 M806.44,916.60V923.10 M815.11,916.60V923.10 M823.79,916.60V929.10 M832.46,916.60V923.10 M841.14,916.60V923.10 M849.82,916.60V923.10 M858.49,916.60V923.10 M867.17,916.60V929.10 M875.84,916.60V923.10 M884.52,916.60V923.10 M893.19,916.60V923.10 M901.87,916.60V923.10 M910.54,916.60V929.10 M919.22,916.60V923.10 M927.90,916.60V923.10 M936.57,916.60V923.10 M945.25,916.60V923.10 M953.92,916.60V929.10 M962.60,916.60V923.10 M971.27,916.60V923.10 M979.95,916.60V923.10 M988.62,916.60V923.10 M997.30,916.60V929.10" stroke="#bcbcbc" stroke-width="1.2" fill="none"/>
<g transform="translate(558.64,923.90) scale(1,1.0)" font-size="20.4"><text x="0.00" y="0">0.0</text></g>
<g transform="translate(558.64,845.60) scale(1,1.0)" font-size="20.4"><text x="0.00" y="0">0.2</text></g>
<g transform="translate(558.64,767.30) scale(1,1.0)" font-size="20.4"><text x="0.00" y="0">0.4</text></g>
<g transform="translate(558.64,689.00) scale(1,1.0)" font-size="20.4"><text x="0.00" y="0">0.6</text></g>
<g transform="translate(558.64,610.70) scale(1,1.0)" font-size="20.4"><text x="0.00" y="0">0.8</text></g>
<g transform="translate(558.64,532.40) scale(1,1.0)" font-size="20.4"><path transform="translate(0.00,0) scale(0.00996,-0.00996)" d="M763,0H583V1147Q518,1085 412,1023T222,930V1104Q373,1175 486,1276T646,1472H763Z"/><text x="11.34" y="0">.0</text></g>
<g transform="translate(601.23,953.90) scale(1,1.0)" font-size="20.4"><path transform="translate(0.00,0) scale(0.00996,-0.00996)" d="M763,0H583V1147Q518,1085 412,1023T222,930V1104Q373,1175 486,1276T646,1472H763Z"/></g>
<g transform="translate(638.94,953.90) scale(1,1.0)" font-size="20.4"><text x="0.00" y="0">4</text><path transform="translate(11.34,0) scale(0.00996,-0.00996)" d="M763,0H583V1147Q518,1085 412,1023T222,930V1104Q373,1175 486,1276T646,1472H763Z"/></g>
<g transform="translate(682.31,953.90) scale(1,1.0)" font-size="20.4"><text x="0.00" y="0">8</text><path transform="translate(11.34,0) scale(0.00996,-0.00996)" d="M763,0H583V1147Q518,1085 412,1023T222,930V1104Q373,1175 486,1276T646,1472H763Z"/></g>
<g transform="translate(720.02,953.90) scale(1,1.0)" font-size="20.4"><path transform="translate(0.00,0) scale(0.00996,-0.00996)" d="M763,0H583V1147Q518,1085 412,1023T222,930V1104Q373,1175 486,1276T646,1472H763Z"/><text x="11.34" y="0">2</text><path transform="translate(22.68,0) scale(0.00996,-0.00996)" d="M763,0H583V1147Q518,1085 412,1023T222,930V1104Q373,1175 486,1276T646,1472H763Z"/></g>
<g transform="translate(763.40,953.90) scale(1,1.0)" font-size="20.4"><path transform="translate(0.00,0) scale(0.00996,-0.00996)" d="M763,0H583V1147Q518,1085 412,1023T222,930V1104Q373,1175 486,1276T646,1472H763Z"/><text x="11.34" y="0">6</text><path transform="translate(22.68,0) scale(0.00996,-0.00996)" d="M763,0H583V1147Q518,1085 412,1023T222,930V1104Q373,1175 486,1276T646,1472H763Z"/></g>
<g transform="translate(806.78,953.90) scale(1,1.0)" font-size="20.4"><text x="0.00" y="0">20</text><path transform="translate(22.68,0) scale(0.00996,-0.00996)" d="M763,0H583V1147Q518,1085 412,1023T222,930V1104Q373,1175 486,1276T646,1472H763Z"/></g>
<g transform="translate(850.15,953.90) scale(1,1.0)" font-size="20.4"><text x="0.00" y="0">24</text><path transform="translate(22.68,0) scale(0.00996,-0.00996)" d="M763,0H583V1147Q518,1085 412,1023T222,930V1104Q373,1175 486,1276T646,1472H763Z"/></g>
<g transform="translate(893.53,953.90) scale(1,1.0)" font-size="20.4"><text x="0.00" y="0">28</text><path transform="translate(22.68,0) scale(0.00996,-0.00996)" d="M763,0H583V1147Q518,1085 412,1023T222,930V1104Q373,1175 486,1276T646,1472H763Z"/></g>
<g transform="translate(936.91,953.90) scale(1,1.0)" font-size="20.4"><text x="0.00" y="0">32</text><path transform="translate(22.68,0) scale(0.00996,-0.00996)" d="M763,0H583V1147Q518,1085 412,1023T222,930V1104Q373,1175 486,1276T646,1472H763Z"/></g>
<g transform="translate(980.29,953.90) scale(1,1.0)" font-size="20.4"><text x="0.00" y="0">36</text><path transform="translate(22.68,0) scale(0.00996,-0.00996)" d="M763,0H583V1147Q518,1085 412,1023T222,930V1104Q373,1175 486,1276T646,1472H763Z"/></g>
<text transform="translate(798.40,978.90) scale(1,1.0)" text-anchor="middle" font-size="23.4">DOY/2003</text>
<text transform="translate(549.00,719.90) rotate(-90) scale(1,1.0)" text-anchor="middle" font-size="23.8">NDVI</text>
<g font-family="Liberation Serif, serif" font-size="26"><text transform="translate(761.44,1014.70) scale(1,1.06)" text-anchor="middle">(</text><text x="773.00" y="1014.70" text-anchor="middle" font-weight="bold">d</text><text transform="translate(784.56,1014.70) scale(1,1.06)" text-anchor="middle">)</text></g>
<svg x="600.90" y="519.10" width="402.40" height="403.50" viewBox="600.90 519.10 402.40 403.50" overflow="visible">
<polyline points="606.90,680.21 615.58,696.89 624.25,711.34 632.93,709.85 641.60,693.91 650.28,685.77 658.95,673.52 667.63,653.86 676.30,620.98 684.98,634.60 693.66,640.16 702.33,639.42 711.01,620.59 719.68,604.46 728.36,599.68 737.03,604.46 745.71,602.54 754.38,591.30 763.06,575.88 771.74,576.27 780.41,577.99 789.09,575.88 797.76,576.82 806.44,576.82 815.11,575.13 823.79,582.73 832.46,590.32 841.14,594.87 849.82,588.84 858.49,584.29 867.17,583.75 875.84,587.94 884.52,586.06 893.19,584.53 901.87,583.43 910.54,592.59 919.22,614.91 927.90,646.31 936.57,670.46 945.25,684.13 953.92,684.52 962.60,681.74 971.27,675.94 979.95,683.97 988.62,694.62 997.30,699.32" fill="none" stroke="#b4b4b4" stroke-width="0.9"/>
<polyline points="606.90,566.76 615.58,717.29 624.25,730.99 632.93,737.68 641.60,650.54 650.28,856.31 658.95,684.64 667.63,748.80 676.30,630.88 684.98,648.70 693.66,728.41 702.33,640.16 711.01,623.48 719.68,599.37 728.36,878.19 737.03,683.34 745.71,751.39 754.38,804.04 763.06,565.93 771.74,565.93 780.41,573.41 789.09,771.78 797.76,693.91 806.44,846.68 815.11,566.21 823.79,576.58 832.46,593.73 841.14,753.23 849.82,575.13 858.49,582.65 867.17,585.51 875.84,586.10 884.52,565.39 893.19,799.58 901.87,581.75 910.54,578.85 919.22,661.50 927.90,816.26 936.57,749.55 945.25,603.79 953.92,682.64 962.60,679.82 971.27,603.01 979.95,756.20 988.62,748.41 997.30,701.31" fill="none" stroke="#0000ff" stroke-width="2.2" stroke-linejoin="round" stroke-linecap="round"/>
<path d="M606.90,676.71l3.5,3.5l-3.5,3.5l-3.5,-3.5zM615.58,693.39l3.5,3.5l-3.5,3.5l-3.5,-3.5zM624.25,707.84l3.5,3.5l-3.5,3.5l-3.5,-3.5zM632.93,706.35l3.5,3.5l-3.5,3.5l-3.5,-3.5zM641.60,690.41l3.5,3.5l-3.5,3.5l-3.5,-3.5zM650.28,682.27l3.5,3.5l-3.5,3.5l-3.5,-3.5zM658.95,670.02l3.5,3.5l-3.5,3.5l-3.5,-3.5zM667.63,650.36l3.5,3.5l-3.5,3.5l-3.5,-3.5zM676.30,617.48l3.5,3.5l-3.5,3.5l-3.5,-3.5zM684.98,631.10l3.5,3.5l-3.5,3.5l-3.5,-3.5zM693.66,636.66l3.5,3.5l-3.5,3.5l-3.5,-3.5zM702.33,635.92l3.5,3.5l-3.5,3.5l-3.5,-3.5zM711.01,617.09l3.5,3.5l-3.5,3.5l-3.5,-3.5zM719.68,600.96l3.5,3.5l-3.5,3.5l-3.5,-3.5zM728.36,596.18l3.5,3.5l-3.5,3.5l-3.5,-3.5zM737.03,600.96l3.5,3.5l-3.5,3.5l-3.5,-3.5zM745.71,599.04l3.5,3.5l-3.5,3.5l-3.5,-3.5zM754.38,587.80l3.5,3.5l-3.5,3.5l-3.5,-3.5zM763.06,572.38l3.5,3.5l-3.5,3.5l-3.5,-3.5zM771.74,572.77l3.5,3.5l-3.5,3.5l-3.5,-3.5zM780.41,574.49l3.5,3.5l-3.5,3.5l-3.5,-3.5zM789.09,572.38l3.5,3.5l-3.5,3.5l-3.5,-3.5zM797.76,573.32l3.5,3.5l-3.5,3.5l-3.5,-3.5zM806.44,573.32l3.5,3.5l-3.5,3.5l-3.5,-3.5zM815.11,571.63l3.5,3.5l-3.5,3.5l-3.5,-3.5zM823.79,579.23l3.5,3.5l-3.5,3.5l-3.5,-3.5zM832.46,586.82l3.5,3.5l-3.5,3.5l-3.5,-3.5zM841.14,591.37l3.5,3.5l-3.5,3.5l-3.5,-3.5zM849.82,585.34l3.5,3.5l-3.5,3.5l-3.5,-3.5zM858.49,580.79l3.5,3.5l-3.5,3.5l-3.5,-3.5zM867.17,580.25l3.5,3.5l-3.5,3.5l-3.5,-3.5zM875.84,584.44l3.5,3.5l-3.5,3.5l-3.5,-3.5zM884.52,582.56l3.5,3.5l-3.5,3.5l-3.5,-3.5zM893.19,581.03l3.5,3.5l-3.5,3.5l-3.5,-3.5zM901.87,579.93l3.5,3.5l-3.5,3.5l-3.5,-3.5zM910.54,589.09l3.5,3.5l-3.5,3.5l-3.5,-3.5zM919.22,611.41l3.5,3.5l-3.5,3.5l-3.5,-3.5zM927.90,642.81l3.5,3.5l-3.5,3.5l-3.5,-3.5zM936.57,666.96l3.5,3.5l-3.5,3.5l-3.5,-3.5zM945.25,680.63l3.5,3.5l-3.5,3.5l-3.5,-3.5zM953.92,681.02l3.5,3.5l-3.5,3.5l-3.5,-3.5zM962.60,678.24l3.5,3.5l-3.5,3.5l-3.5,-3.5zM971.27,672.44l3.5,3.5l-3.5,3.5l-3.5,-3.5zM979.95,680.47l3.5,3.5l-3.5,3.5l-3.5,-3.5zM988.62,691.12l3.5,3.5l-3.5,3.5l-3.5,-3.5zM997.30,695.82l3.5,3.5l-3.5,3.5l-3.5,-3.5z" fill="#ff0000"/>
<polyline points="606.90,566.76 711.01,596.51 719.68,596.51 728.36,591.89 737.03,585.16 745.71,578.89 754.38,572.67 763.06,567.50 771.74,567.50 780.41,569.89 789.09,571.06 797.76,569.34 806.44,568.09 815.11,569.89 823.79,576.27 832.46,586.72 841.14,586.13 849.82,581.36 858.49,583.51 867.17,585.04 875.84,581.08 884.52,575.02 893.19,577.17 901.87,581.87 910.54,605.28 919.22,645.09 927.90,645.09 936.57,623.99 945.25,609.19 953.92,604.18 962.60,602.89 971.27,601.40 979.95,599.33 988.62,596.71 997.30,593.61" fill="none" stroke="#800000" stroke-width="2.3" stroke-linejoin="round" stroke-linecap="round"/>
</svg>
<path d="M828.9,861.2H887.9" stroke="#0000ff" stroke-width="2.1" stroke-linecap="round"/>
<path d="M687.2,898.1H749.6" stroke="#b4b4b4" stroke-width="0.9"/>
<path d="M718.40,893.20l4.9,4.9l-4.9,4.9l-4.9,-4.9z" fill="#ff0000"/>
<path d="M828.9,898.1H887.9" stroke="#800000" stroke-width="2.0" stroke-linecap="round"/>
<text transform="translate(895.4,867.7) scale(1,1.0)" font-size="18.3">MODIS</text>
<text transform="translate(759.8,904.6) scale(1,1.0)" font-size="18.3">VIRR</text>
<text transform="translate(895.4,904.6) scale(1,1.0)" font-size="18.3">TSCD</text>
</svg></body></html>
